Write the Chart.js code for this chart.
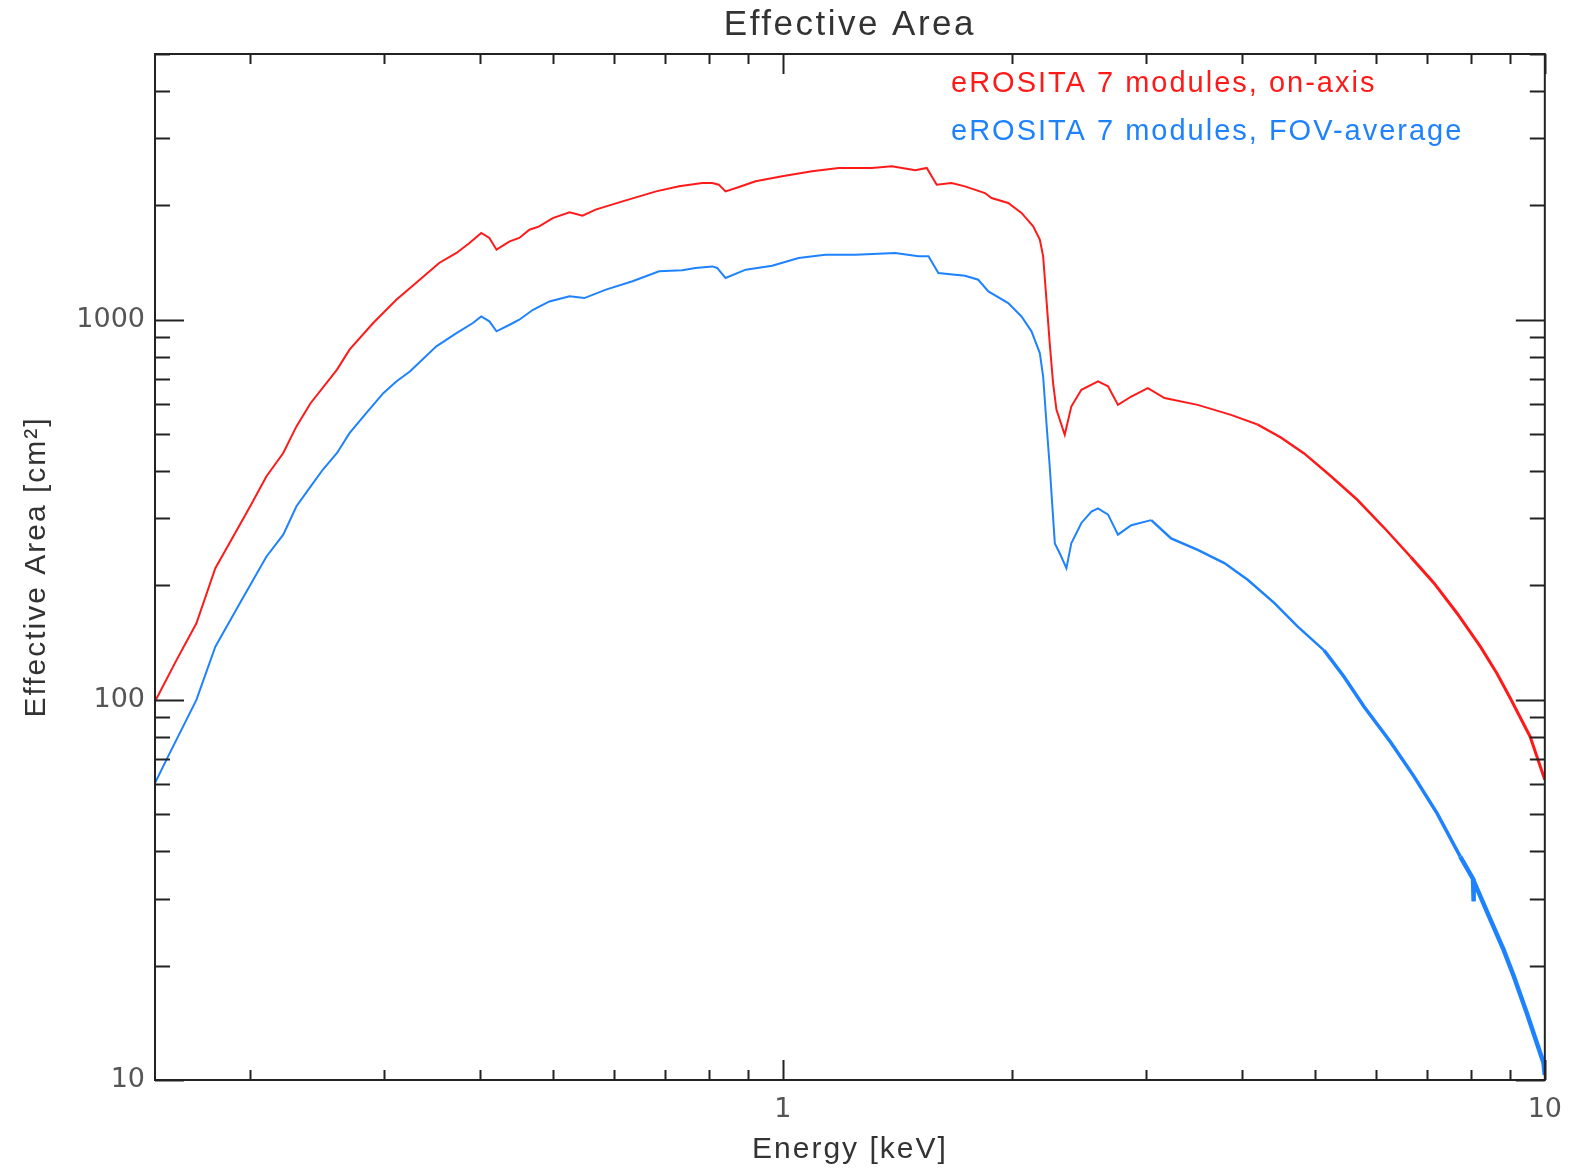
<!DOCTYPE html>
<html lang="en">
<head>
<meta charset="UTF-8">
<title>Effective Area</title>
<script src="https://cdn.jsdelivr.net/npm/chart.js"></script>
<style>
  html, body { margin: 0; padding: 0; background: #fff; }
  #wrap { width: 1576px; height: 1174px; }
</style>
</head>
<body>
<div id="wrap"><canvas id="chart" width="1576" height="1174"></canvas></div>
<script>
// eROSITA 7 modules, on-axis (energy in keV, area in cm^2)
const onAxisEnergy = [0.150, 0.160, 0.170, 0.180, 0.190, 0.200, 0.210, 0.221, 0.230, 0.240,
  0.260, 0.270, 0.290, 0.311, 0.330, 0.354, 0.373, 0.388, 0.402, 0.412, 0.421, 0.438, 0.451,
  0.465, 0.479, 0.499, 0.525, 0.546, 0.568, 0.616, 0.682, 0.731, 0.784, 0.808, 0.824, 0.841,
  0.876, 0.921, 0.998, 1.092, 1.184, 1.309, 1.390, 1.492, 1.545, 1.592, 1.665, 1.734, 1.842,
  1.879, 1.976, 2.057, 2.131, 2.174, 2.196, 2.218, 2.240, 2.263, 2.286, 2.344, 2.391, 2.465,
  2.592, 2.672, 2.753, 2.866, 3.013, 3.169, 3.503, 3.874, 4.198, 4.504, 4.832, 5.236, 5.674,
  6.150, 6.664, 7.151, 7.670, 8.231, 8.650, 9.010, 9.567, 10.0];
const onAxisArea = [99, 127, 159, 222, 269, 323, 387, 446, 524, 603,
  739, 834, 980, 1129, 1249, 1410, 1498, 1591, 1691, 1641, 1528, 1607, 1641,
  1725, 1760, 1851, 1917, 1878, 1948, 2048, 2176, 2243, 2289, 2289, 2266, 2176,
  2234, 2312, 2384, 2457, 2507, 2507, 2532, 2472, 2507, 2266, 2289, 2243, 2154,
  2090, 2028, 1909, 1760, 1624, 1468, 1129, 868, 681, 580, 498, 591, 654,
  688, 668, 597, 628, 661, 622, 597, 562, 530, 490, 445, 388, 336,
  284, 238, 203, 169, 138, 117.5, 101, 80, 61.6];

// eROSITA 7 modules, FOV-average
const fovEnergy = [0.150, 0.156, 0.170, 0.180, 0.194, 0.210, 0.221, 0.230, 0.240, 0.249,
  0.260, 0.270, 0.284, 0.299, 0.311, 0.324, 0.351, 0.373, 0.392, 0.402, 0.412, 0.421, 0.438,
  0.451, 0.470, 0.494, 0.525, 0.549, 0.586, 0.635, 0.688, 0.738, 0.768, 0.808, 0.820, 0.841,
  0.894, 0.968, 1.049, 1.137, 1.245, 1.404, 1.507, 1.553, 1.600, 1.734, 1.805, 1.861, 1.976,
  2.057, 2.120, 2.174, 2.196, 2.218, 2.240, 2.275, 2.309, 2.356, 2.391, 2.465, 2.541, 2.592,
  2.672, 2.753, 2.866, 3.044, 3.233, 3.503, 3.797, 4.074, 4.414, 4.736, 5.132, 5.451, 5.789,
  6.273, 6.730, 7.222, 7.745, 8.050, 8.060, 8.070, 8.479, 8.830, 9.100, 9.470, 9.960, 10.0];
const fovArea = [60.4, 70.9, 100, 138, 180, 238, 272, 323, 364, 403,
  446, 503, 568, 641, 688, 731, 851, 922, 980, 1020, 990, 932, 970,
  1000, 1062, 1117, 1152, 1140, 1200, 1262, 1341, 1349, 1368, 1381, 1368, 1288,
  1354, 1387, 1453, 1483, 1483, 1498, 1468, 1468, 1327, 1305, 1274, 1187, 1106,
  1020, 932, 817, 709, 535, 411, 258, 243, 222, 258, 292, 313, 319,
  307, 272, 288, 297, 266, 248, 229, 207, 180, 156, 135, 115, 96,
  77.5, 63, 50.3, 38.7, 33.8, 29.5, 33.4, 26.5, 22.0, 18.8, 15.0, 11.1, 10.3];

const seriesLabels = ['eROSITA 7 modules, on-axis', 'eROSITA 7 modules, FOV-average'];
const seriesColors = ['#ff1a1a', '#1e82ff'];

// axis ticks
const xTicks = [0.2, 0.3, 0.4, 0.5, 0.6, 0.7, 0.8, 0.9, 1, 2, 3, 4, 5, 6, 7, 8, 9, 10];
const xMajor = [1, 10];
const yTicks = [10, 20, 30, 40, 50, 60, 70, 80, 90, 100, 200, 300, 400, 500, 600, 700, 800, 900,
  1000, 2000, 3000, 4000, 5000];
const yMajor = [10, 100, 1000];

const FONT = '"Liberation Sans", "Helvetica", sans-serif';
const TICK_FONT = '"DejaVu Sans", sans-serif';

function toPoints(xs, ys) {
  return xs.map((x, i) => ({ x: x, y: ys[i] }));
}

// the measured curves get noisy at high energy, so the line looks thicker there
function noisyWidth(steps) {
  return ctx => {
    const e = ctx.p0.parsed.x;
    let w = 2;
    steps.forEach(([from, width]) => { if (e >= from) w = width; });
    return w;
  };
}

// IDL-style frame: box with inward ticks on all four sides
const framePlugin = {
  id: 'frame',
  afterDraw(chart) {
    const { ctx, chartArea: a, scales } = chart;
    ctx.save();
    ctx.strokeStyle = '#222';
    ctx.lineWidth = 2;
    ctx.strokeRect(a.left, a.top, a.right - a.left, a.bottom - a.top);
    ctx.beginPath();
    xTicks.forEach(v => {
      const px = Math.round(scales.x.getPixelForValue(v)) + 0.5;
      const len = xMajor.includes(v) ? 20 : 10;
      ctx.moveTo(px, a.bottom); ctx.lineTo(px, a.bottom - len);
      ctx.moveTo(px, a.top); ctx.lineTo(px, a.top + len);
    });
    yTicks.forEach(v => {
      const py = Math.round(scales.y.getPixelForValue(v)) + 0.5;
      const len = yMajor.includes(v) ? 29 : 15;
      ctx.moveTo(a.left, py); ctx.lineTo(a.left + len, py);
      ctx.moveTo(a.right, py); ctx.lineTo(a.right - len, py);
    });
    ctx.stroke();
    ctx.restore();
  }
};

// title, axis titles and the text legend inside the plot
const textPlugin = {
  id: 'texts',
  afterDraw(chart) {
    const { ctx, chartArea: a } = chart;
    const cx = (a.left + a.right) / 2;
    ctx.save();
    ctx.textBaseline = 'middle';
    ctx.letterSpacing = '2.5px';

    ctx.fillStyle = '#333';
    ctx.textAlign = 'center';
    ctx.font = '35px ' + FONT;
    ctx.fillText('Effective Area', cx, 25);

    ctx.letterSpacing = '2px';
    ctx.font = '30px ' + FONT;
    ctx.fillText('Energy [keV]', cx, 1150);

    ctx.save();
    ctx.translate(37, (a.top + a.bottom) / 2);
    ctx.rotate(-Math.PI / 2);
    ctx.fillText('Effective Area [cm\u00B2]', 0, 0);
    ctx.restore();

    ctx.textAlign = 'left';
    ctx.font = '29px ' + FONT;
    seriesLabels.forEach((t, i) => {
      ctx.fillStyle = seriesColors[i];
      ctx.fillText(t, 951, 84 + i * 48);
    });
    ctx.restore();
  }
};

new Chart(document.getElementById('chart'), {
  type: 'line',
  data: {
    datasets: [
      {
        label: seriesLabels[0],
        data: toPoints(onAxisEnergy, onAxisArea),
        borderColor: seriesColors[0],
        borderWidth: 2,
        pointRadius: 0,
        tension: 0,
        segment: { borderWidth: noisyWidth([[4, 2.5], [6.5, 3]]) }
      },
      {
        label: seriesLabels[1],
        data: toPoints(fovEnergy, fovArea),
        borderColor: seriesColors[1],
        borderWidth: 2,
        pointRadius: 0,
        tension: 0,
        segment: { borderWidth: noisyWidth([[3, 2.5], [5, 3.5], [7.5, 4.5]]) }
      }
    ]
  },
  options: {
    responsive: false,
    animation: false,
    parsing: false,
    layout: { padding: { top: 54, right: 28, left: 0, bottom: 0 } },
    plugins: {
      legend: { display: false },
      tooltip: { enabled: false },
      title: { display: false }
    },
    scales: {
      x: {
        type: 'logarithmic',
        min: 0.15,
        max: 10,
        grid: { display: false, drawTicks: false },
        border: { display: false },
        afterBuildTicks: s => { s.ticks = xTicks.map(v => ({ value: v })); },
        afterFit: s => { s.height = 94; },
        ticks: {
          autoSkip: false,
          maxRotation: 0,
          padding: 14,
          color: '#555',
          font: { family: TICK_FONT, size: 27 },
          callback: v => xMajor.includes(v) ? String(v) : ''
        }
      },
      y: {
        type: 'logarithmic',
        min: 10,
        max: 5000,
        grid: { display: false, drawTicks: false },
        border: { display: false },
        afterBuildTicks: s => { s.ticks = yTicks.map(v => ({ value: v })); },
        afterFit: s => { s.width = 155; },
        ticks: {
          autoSkip: false,
          padding: 10,
          color: '#555',
          font: { family: TICK_FONT, size: 27 },
          callback: v => yMajor.includes(v) ? String(v) : ''
        }
      }
    }
  },
  plugins: [framePlugin, textPlugin]
});
</script>
</body>
</html>
